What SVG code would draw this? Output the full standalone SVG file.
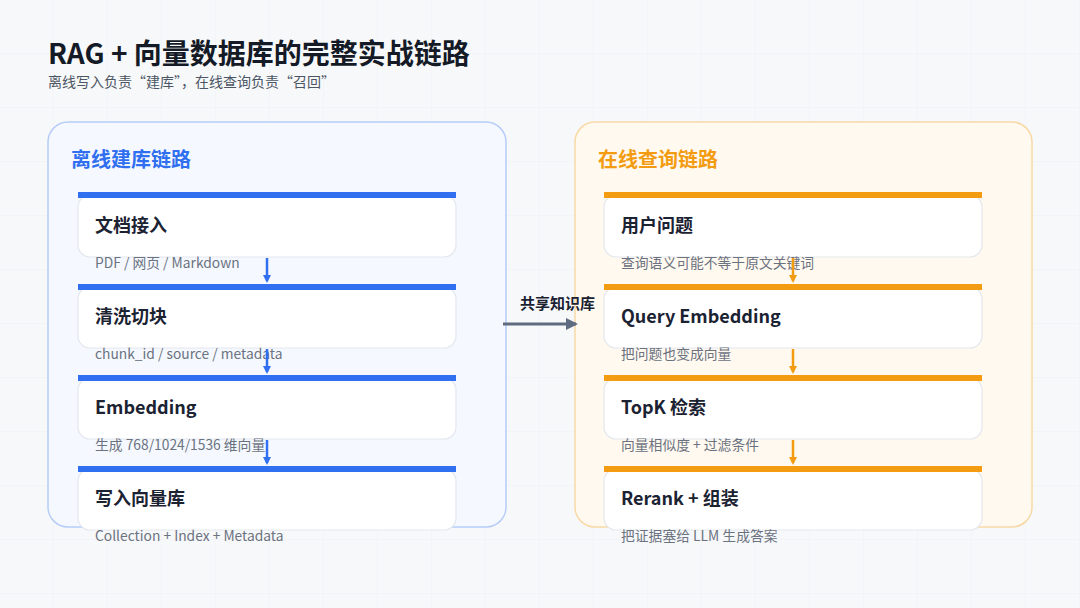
<svg xmlns="http://www.w3.org/2000/svg" width="1080" height="608" viewBox="0 0 1080 608">
<defs>
<pattern id="grid" width="54" height="54" patternUnits="userSpaceOnUse"><path d="M54 0V54H0" fill="none" stroke="#eef1f5" stroke-width="1"/></pattern>
<marker id="ab" markerWidth="8" markerHeight="8" refX="6" refY="4" orient="auto" markerUnits="userSpaceOnUse"><path d="M0,0L8,4L0,8z" fill="#2f6ff0"/></marker>
<marker id="ao" markerWidth="8" markerHeight="8" refX="6" refY="4" orient="auto" markerUnits="userSpaceOnUse"><path d="M0,0L8,4L0,8z" fill="#f39c12"/></marker>
<marker id="ag" markerWidth="12" markerHeight="12" refX="10" refY="6" orient="auto" markerUnits="userSpaceOnUse"><path d="M0,0L12,6L0,12z" fill="#5f6b80"/></marker>
</defs>
<style>
text{font-family:"Noto Sans CJK SC","Noto Sans",sans-serif}
.card{fill:#fff;stroke:#e3e7ee;stroke-width:1.2}
.t{font-size:18px;font-weight:700;fill:#1b2232}
.s{font-size:13.8px;fill:#6b7280}
.bb{fill:#2f6ff0}.bo{fill:#f39c12}
</style>
<rect width="1080" height="608" fill="#f7f8fa"/>
<rect width="1080" height="608" fill="url(#grid)"/>
<text x="48" y="64" font-size="28" font-weight="700" fill="#141a26">RAG + 向量数据库的完整实战链路</text>
<text x="48" y="87" font-size="14" fill="#4b5563">离线写入负责“建库”，在线查询负责“召回”</text>
<g id="panel-offline"><rect x="48" y="122" width="458" height="405" rx="20" fill="#f5f9ff" stroke="#b7cdf7" stroke-width="1.5"/>
<text x="71" y="167" font-size="20" font-weight="700" fill="#2f6ff0">离线建库链路</text></g>
<g id="panel-online"><rect x="575" y="122" width="457" height="405" rx="20" fill="#fff9f0" stroke="#f8d9a6" stroke-width="1.5"/>
<text x="598" y="167" font-size="20" font-weight="700" fill="#f39c12">在线查询链路</text></g>
<g id="n1"><rect class="card" x="78" y="195" width="378" height="62" rx="12"/><rect class="bb" x="78" y="192" width="378" height="6"/><text class="t" x="95" y="232">文档接入</text><text class="s" x="95" y="268">PDF / 网页 / Markdown</text></g>
<g id="n2"><rect class="card" x="78" y="287" width="378" height="61" rx="12"/><rect class="bb" x="78" y="284" width="378" height="6"/><text class="t" x="95" y="323">清洗切块</text><text class="s" x="95" y="359">chunk_id / source / metadata</text></g>
<g id="n3"><rect class="card" x="78" y="378" width="378" height="61" rx="12"/><rect class="bb" x="78" y="375" width="378" height="6"/><text class="t" x="95" y="414">Embedding</text><text class="s" x="95" y="450">生成 768/1024/1536 维向量</text></g>
<g id="n4"><rect class="card" x="78" y="469" width="378" height="61" rx="12"/><rect class="bb" x="78" y="466" width="378" height="6"/><text class="t" x="95" y="505">写入向量库</text><text class="s" x="95" y="541">Collection + Index + Metadata</text></g>
<g id="m1"><rect class="card" x="604" y="195" width="378" height="62" rx="12"/><rect class="bo" x="604" y="192" width="378" height="6"/><text class="t" x="621" y="232">用户问题</text><text class="s" x="621" y="268">查询语义可能不等于原文关键词</text></g>
<g id="m2"><rect class="card" x="604" y="287" width="378" height="61" rx="12"/><rect class="bo" x="604" y="284" width="378" height="6"/><text class="t" x="621" y="323">Query Embedding</text><text class="s" x="621" y="359">把问题也变成向量</text></g>
<g id="m3"><rect class="card" x="604" y="378" width="378" height="61" rx="12"/><rect class="bo" x="604" y="375" width="378" height="6"/><text class="t" x="621" y="414">TopK 检索</text><text class="s" x="621" y="450">向量相似度 + 过滤条件</text></g>
<g id="m4"><rect class="card" x="604" y="469" width="378" height="61" rx="12"/><rect class="bo" x="604" y="466" width="378" height="6"/><text class="t" x="621" y="505">Rerank + 组装</text><text class="s" x="621" y="541">把证据塞给 LLM 生成答案</text></g>
<g id="connectors" stroke-width="2.5">
<line x1="267" y1="258" x2="267" y2="281" stroke="#2f6ff0" marker-end="url(#ab)"/>
<line x1="267" y1="349" x2="267" y2="372" stroke="#2f6ff0" marker-end="url(#ab)"/>
<line x1="267" y1="440" x2="267" y2="463" stroke="#2f6ff0" marker-end="url(#ab)"/>
<line x1="793" y1="258" x2="793" y2="281" stroke="#f39c12" marker-end="url(#ao)"/>
<line x1="793" y1="349" x2="793" y2="372" stroke="#f39c12" marker-end="url(#ao)"/>
<line x1="793" y1="440" x2="793" y2="463" stroke="#f39c12" marker-end="url(#ao)"/>
<line x1="503" y1="324" x2="576" y2="324" stroke="#5f6b80" stroke-width="3" marker-end="url(#ag)"/>
<text x="520" y="309" font-size="15" font-weight="700" fill="#1b2232" stroke="none">共享知识库</text>
</g>
</svg>
